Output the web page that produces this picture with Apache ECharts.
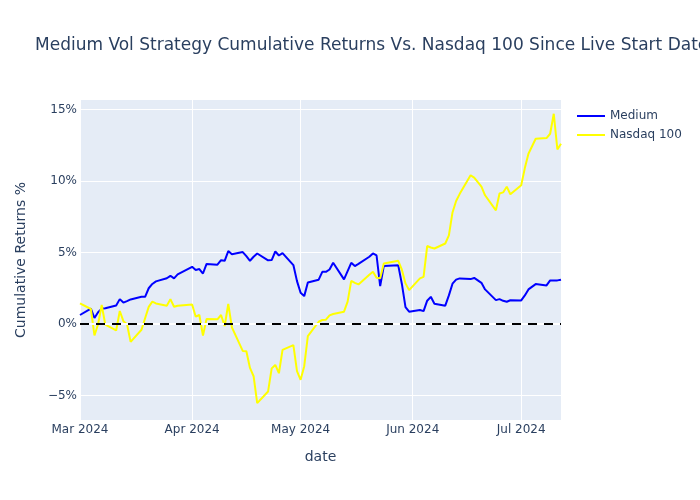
<!DOCTYPE html>
<html>
<head>
<meta charset="utf-8">
<script src="https://cdn.jsdelivr.net/npm/echarts@6/dist/echarts.min.js"></script>
<style>html,body{margin:0;padding:0;background:#fff;}#c{width:700px;height:500px;}</style>
</head>
<body>
<div id="c"></div>
<script>
const dates = [
 '2024-03-01','2024-03-04','2024-03-05','2024-03-06','2024-03-07','2024-03-08','2024-03-11','2024-03-12','2024-03-13','2024-03-14','2024-03-15','2024-03-18','2024-03-19','2024-03-20','2024-03-21','2024-03-22','2024-03-25','2024-03-26','2024-03-27','2024-03-28',
 '2024-04-01','2024-04-02','2024-04-03','2024-04-04','2024-04-05','2024-04-08','2024-04-09','2024-04-10','2024-04-11','2024-04-12','2024-04-15','2024-04-16','2024-04-17','2024-04-18','2024-04-19','2024-04-22','2024-04-23','2024-04-24','2024-04-25','2024-04-26','2024-04-29','2024-04-30',
 '2024-05-01','2024-05-02','2024-05-03','2024-05-06','2024-05-07','2024-05-08','2024-05-09','2024-05-10','2024-05-13','2024-05-14','2024-05-15','2024-05-16','2024-05-17','2024-05-20','2024-05-21','2024-05-22','2024-05-23','2024-05-24','2024-05-28','2024-05-29','2024-05-30','2024-05-31',
 '2024-06-03','2024-06-04','2024-06-05','2024-06-06','2024-06-07','2024-06-10','2024-06-11','2024-06-12','2024-06-13','2024-06-14','2024-06-17','2024-06-18','2024-06-20','2024-06-21','2024-06-24','2024-06-25','2024-06-26','2024-06-27','2024-06-28',
 '2024-07-01','2024-07-02','2024-07-03','2024-07-05','2024-07-08','2024-07-09','2024-07-10','2024-07-11','2024-07-12'
];
const medium = [
 0.63,1.08,0.42,0.82,1.07,1.1,1.3,1.74,1.5,1.6,1.72,1.9,1.9,2.5,2.8,2.98,3.2,3.37,3.19,3.47,
 4.0,3.78,3.84,3.53,4.2,4.15,4.46,4.42,5.1,4.88,5.03,4.74,4.42,4.7,4.93,4.45,4.47,5.07,4.79,4.96,4.12,3.0,
 2.19,1.95,2.9,3.1,3.65,3.65,3.81,4.28,3.12,3.7,4.28,4.05,4.2,4.7,4.93,4.79,2.65,4.05,4.1,2.8,1.18,0.86,
 0.98,0.9,1.63,1.9,1.42,1.28,2.0,2.82,3.1,3.19,3.14,3.22,2.88,2.42,1.67,1.74,1.62,1.56,1.66,
 1.65,2.0,2.42,2.79,2.7,3.05,3.05,3.05,3.1
];
const nasdaq = [
 1.45,1.05,-0.8,-0.02,1.33,-0.05,-0.45,0.91,0.2,-0.02,-1.25,-0.4,0.4,1.2,1.56,1.44,1.28,1.74,1.21,1.28,
 1.37,0.51,0.63,-0.8,0.35,0.33,0.63,-0.14,1.4,-0.23,-1.88,-1.9,-3.07,-3.65,-5.53,-4.72,-3.1,-2.86,-3.44,-1.81,-1.47,-3.3,
 -3.9,-2.95,-0.85,0.16,0.28,0.3,0.6,0.7,0.86,1.56,3.02,2.88,2.77,3.45,3.65,3.23,3.19,4.23,4.42,3.8,2.84,2.37,
 3.19,3.3,5.45,5.35,5.28,5.63,6.2,7.8,8.6,9.1,10.4,10.23,9.6,9.0,7.95,9.12,9.2,9.6,9.07,
 9.7,10.9,11.9,12.95,13.0,13.3,14.7,12.2,12.6
];
const seriesNames = ['Medium','Nasdaq 100'];
const monthNames = ['Jan','Feb','Mar','Apr','May','Jun','Jul','Aug','Sep','Oct','Nov','Dec'];

const FONT = '"DejaVu Sans", verdana, sans-serif';
const TXT = '#2a3f5f';
const chart = echarts.init(document.getElementById('c'), null, {renderer:'canvas'});
chart.setOption({
  animation: false,
  textStyle: {fontFamily: FONT},
  title: {
    text: 'Medium Vol Strategy Cumulative Returns Vs. Nasdaq 100 Since Live Start Date',
    left: 30, top: 32,
    textStyle: {fontFamily: FONT, fontSize: 17, fontWeight: 'normal', color: TXT}
  },
  legend: {
    orient: 'vertical', left: 572, top: 105,
    icon: 'rect', itemWidth: 28, itemHeight: 2, itemGap: 7,
    textStyle: {fontFamily: FONT, fontSize: 12, color: TXT},
    data: seriesNames
  },
  grid: {left: 80, right: 139, top: 100, bottom: 80, show: true, backgroundColor: '#E5ECF6', borderWidth: 0},
  xAxis: {
    type: 'time',
    min: '2024-03-01', max: '2024-07-12',
    minInterval: 27*86400000, maxInterval: 32*86400000,
    name: 'date', nameLocation: 'middle', nameGap: 30,
    nameTextStyle: {fontFamily: FONT, fontSize: 14, color: TXT},
    axisLine: {show: false}, axisTick: {show: false},
    axisLabel: {
      fontFamily: FONT, fontSize: 12, color: TXT, margin: 4, hideOverlap: false,
      showMinLabel: true, showMaxLabel: false,
      formatter: function (v) { const d = new Date(v); return monthNames[d.getMonth()] + ' ' + d.getFullYear(); }
    },
    splitLine: {show: true, showMinLine: false, showMaxLine: false, lineStyle: {color: '#fff', width: 1}}
  },
  yAxis: {
    type: 'value', min: -6.71, max: 15.66, splitNumber: 5,
    name: 'Cumulative Returns %', nameLocation: 'middle', nameGap: 52,
    nameTextStyle: {fontFamily: FONT, fontSize: 14, color: TXT},
    axisLine: {show: false}, axisTick: {show: false},
    axisLabel: {
      fontFamily: FONT, fontSize: 12, color: TXT, margin: 3,
      showMinLabel: false, showMaxLabel: false,
      formatter: function (v) { return (v < 0 ? '\u2212' : '') + Math.abs(v) + '%'; }
    },
    splitLine: {show: true, showMinLine: false, showMaxLine: false, lineStyle: {color: '#fff', width: 1}}
  },
  series: [
    {
      name: seriesNames[0], type: 'line', symbol: 'none', showSymbol: false,
      lineStyle: {color: '#0000ff', width: 2}, itemStyle: {color: '#0000ff'},
      data: dates.map((d, i) => [d, medium[i]]),
      markLine: {
        silent: true, symbol: 'none', label: {show: false},
        lineStyle: {color: '#ffffff', width: 2, type: 'solid'},
        data: [{yAxis: 0}]
      },
      z: 2
    },
    {
      name: seriesNames[1], type: 'line', symbol: 'none', showSymbol: false,
      lineStyle: {color: '#ffff00', width: 2}, itemStyle: {color: '#ffff00'},
      data: dates.map((d, i) => [d, nasdaq[i]]),
      markLine: {
        silent: true, symbol: 'none', label: {show: false},
        lineStyle: {color: '#000000', width: 2, type: [9, 7]},
        data: [{yAxis: 0}]
      },
      z: 3
    }
  ]
});
</script>
</body>
</html>
